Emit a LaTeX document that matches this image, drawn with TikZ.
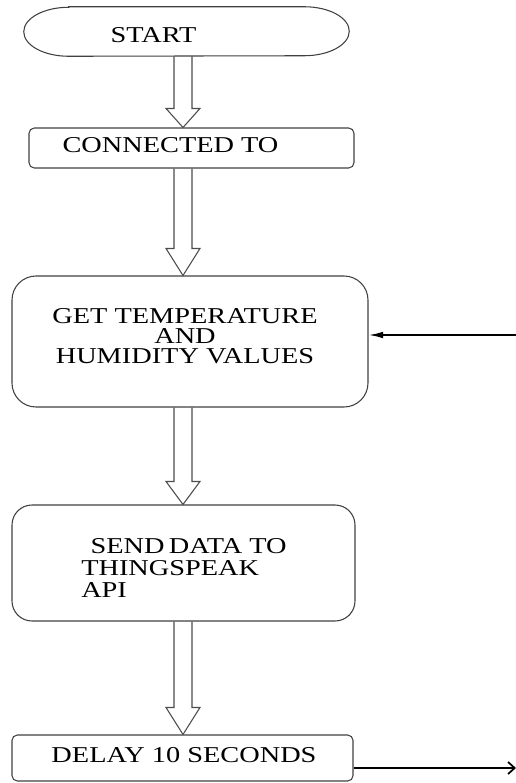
\documentclass[tikz,border=0pt]{standalone}
\usepackage{fontspec}
\setmainfont[FakeStretch=1.25]{Liberation Serif}
\usetikzlibrary{calc,arrows.meta}

% Block arrow down the common axis, from the bottom of #1 to the top of #2,
% with a head #3 px long.
\newcommand\blockarrow[3]{%
  \draw[blockarrow]
    ($(axis|-#1.south)+(-9,0)$) -- ($(axis|-#2.north)+(-9,-#3)$)
    -- ($(axis|-#2.north)+(-17,-#3)$) -- (axis|-#2.north)
    -- ($(axis|-#2.north)+(17,-#3)$) -- ($(axis|-#2.north)+(9,-#3)$)
    -- ($(axis|-#1.south)+(9,0)$);
}

\begin{document}
\begin{tikzpicture}[x=0.75pt,y=-0.75pt,
  box/.style={draw=black!75, line width=0.8pt, inner sep=0pt},
  label/.style={inner sep=0pt, font=\fontsize{17}{15}\selectfont},
  blockarrow/.style={draw=black!70, line width=0.8pt, line join=miter},
  flowline/.style={draw=black, line width=1.3pt}
]
\useasboundingbox (0,0) rectangle (516,783);

\coordinate (axis) at (183,0);

% terminal with elliptical ends
\node[inner sep=0pt, minimum width=243.75pt, minimum height=36.75pt]
  (start) at (186.5,31.5) {};
\draw[box] ($(start.north west)+(45,0)$) -- ($(start.north east)+(-45,0)$)
  arc[start angle=-90, end angle=90, x radius=45, y radius=24.5]
  -- ($(start.south west)+(45,0)$)
  arc[start angle=90, end angle=270, x radius=45, y radius=24.5] -- cycle;

% process boxes
\node[box, minimum width=243.75pt, minimum height=30pt, rounded corners=4pt]
  (conn) at (191.5,148) {};
\node[box, minimum width=267pt, minimum height=98.25pt, rounded corners=18pt]
  (get) at (190,341.5) {};
\node[box, minimum width=257.25pt, minimum height=87pt, rounded corners=15pt]
  (send) at (183.5,563) {};
\node[box, minimum width=255.75pt, minimum height=34.5pt, rounded corners=4pt]
  (delay) at (182.5,758) {};

% texts
\node[label] (start-text) at (153.5,35.5) {START};
\node[label] (conn-text) at (170.5,145.5) {CONNECTED TO};
\node[label, align=center] (get-text) at (185,336)
  {GET TEMPERATURE\\AND\\HUMIDITY VALUES};
\node[label, align=left, anchor=west,
  font=\fontsize{17}{16.5}\selectfont] (send-text) at (81,568)
  {\hspace*{7pt}SEND\hspace{-2pt} DATA TO\\THINGSPEAK\\API};
\node[label] (delay-text) at (184,755.5) {DELAY 10 SECONDS};

% block arrows between steps
\blockarrow{start}{conn}{19}
\blockarrow{conn}{get}{27}
\blockarrow{get}{send}{23}
\blockarrow{send}{delay}{27}

% loop connectors at the right edge
\coordinate (loop-in) at (516,335);
\coordinate (loop-out) at (516,768);
\draw[flowline, -{Latex[length=11pt,width=5pt]}] (loop-in) -- (get.east |- loop-in);
\draw[flowline, -{Straight Barb[length=5pt,width=9pt]}] (delay.east |- loop-out) -- (loop-out);
\end{tikzpicture}
\end{document}
